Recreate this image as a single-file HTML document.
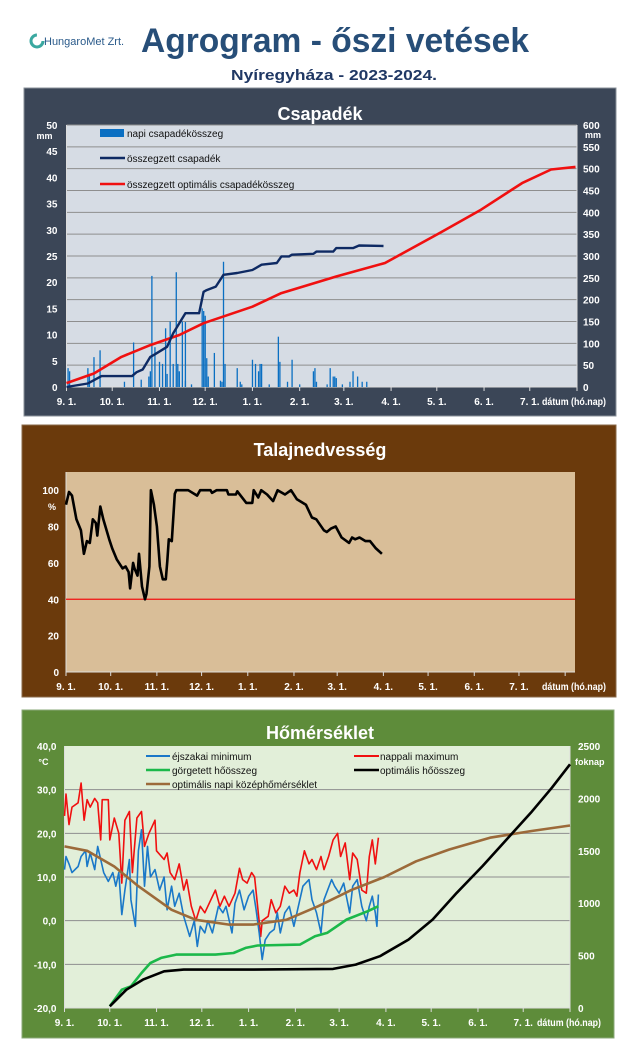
<!DOCTYPE html>
<html><head><meta charset="utf-8">
<style>
html,body{margin:0;padding:0;background:#fff;}
svg{display:block;}
text{font-family:"Liberation Sans",sans-serif;}
</style></head>
<body>
<svg id="root" width="640" height="1059" viewBox="0 0 640 1059" xmlns="http://www.w3.org/2000/svg">
  <g>
    <circle cx="37" cy="41" r="6" fill="none" stroke="#3aa8a0" stroke-width="3" stroke-dasharray="28 10"/>
    <text x="44" y="45" font-size="11" fill="#2a5a8a">HungaroMet Zrt.</text>
  </g>
  <text x="335" y="52" text-anchor="middle" font-size="34" font-weight="bold" fill="#274e78" textLength="388" lengthAdjust="spacingAndGlyphs">Agrogram - őszi vetések</text>
  <text x="334" y="80" text-anchor="middle" font-size="15" font-weight="bold" fill="#203864" textLength="206" lengthAdjust="spacingAndGlyphs">Nyíregyháza  - 2023-2024.</text>

  <rect x="24" y="88" width="592" height="328" fill="#3b4657" stroke="#8a9099"/>
  <text x="320" y="120" text-anchor="middle" font-size="18" font-weight="bold" fill="#fff">Csapadék</text>
  <rect x="66.5" y="125" width="510.5" height="262" fill="#d6dce4"/>
  <g id="p1"></g>

  <rect x="22" y="425" width="594" height="272" fill="#6b3a0c" stroke="#8a6a4a"/>
  <text x="320" y="456" text-anchor="middle" font-size="18" font-weight="bold" fill="#fff">Talajnedvesség</text>
  <rect x="66" y="472" width="509" height="200" fill="#d9be98"/>
  <g id="p2"></g>

  <rect x="22" y="710" width="592" height="328" fill="#5e8c3a" stroke="#8aa878"/>
  <text x="320" y="739" text-anchor="middle" font-size="18" font-weight="bold" fill="#fff">Hőmérséklet</text>
  <rect x="64.5" y="746" width="505.5" height="262" fill="#e2efd9"/>
  <g id="p3"></g>
</svg>
<script>
const monthDays = [0,30,61,91,122,153,182,213,243,274,304,335];
const monthLabels = ["9. 1.","10. 1.","11. 1.","12. 1.","1. 1.","2. 1.","3. 1.","4. 1.","5. 1.","6. 1.","7. 1."];
const precipLeftTicks = [0,5,10,15,20,25,30,35,40,45,50];
const precipRightTicks = [0,50,100,150,200,250,300,350,400,450,500,550,600];
const precipDay = [1,2,14,15,18,22,38,44,49,54,55,56,58,61,63,65,66,68,70,72,73,74,76,78,78,82,89,90,91,92,93,97,101,102,103,104,112,114,115,122,124,126,127,128,133,139,140,145,148,153,162,163,164,171,173,175,176,177,181,186,188,191,194,197];
const precipMm = [3.6,3,3.6,2.4,5.7,7,1,8.5,1.4,2,3,21.2,7.6,4.8,4.4,11.2,2.5,12.5,4.4,21.9,4.4,3,12.5,12.4,1.2,0.5,15,14.5,13.6,5.5,2,6.5,1.2,1,23.9,4.4,3.6,1,0.5,5.2,4.4,3,4.4,4.4,0.5,9.6,4.8,1,5.2,0.5,3,3.6,1,0.5,3.6,2,2,1.7,0.5,1,3,2,1,1];
const cumDay = [0,14,23,43,46,50,55,58,66,70,74,78,87,90,92,98,103,112,122,128,138,141,146,148,162,164,175,177,188,192,208];
const cumMm = [0,8,25,25,34,40,69,75,92,123,146,169,169,218,222,230,257,261,268,280,284,299,299,303,305,310,310,318,318,324,323];
const optDay = [0,18,36,55,74,90,122,141,177,209,245,272,299,318,334];
const optMm = [9,31,69,96,119,146,184,215,253,284,353,406,467,498,504];

const soilTicks = [0,20,40,60,80,100];
const soilThreshold = 40;
const soilDay = [0,2,4,7,10,12,14,16,18,20,21,23,25,29,31,34,38,40,42,43,45,46,48,49,51,53,54,56,57,59,61,63,65,67,68,69,71,73,74,82,88,90,97,98,101,108,109,114,115,121,125,126,129,131,135,139,142,147,151,155,161,165,168,173,175,178,181,185,190,192,194,197,201,204,208,212];
const soilPct = [92,99,97,84,78,65,72,71,84,82,75,91,84,73,68,62,57,58,55,46,60,57,53,65,47,40,43,58,100,92,80,58,51,51,61,73,72,98,100,100,97,100,100,98.5,100,100,97.6,97.6,99.4,93,93,100,96,100,97.6,94,100,97.6,100,95,92,85,84,78,77,79,80,74,71,74,73,74,72,72,68,65];

const tempLeftTicks = [-20,-10,0,10,20,30,40];
const tempLeftLabels = ["-20,0","-10,0","0,0","10,0","20,0","30,0","40,0"];
const tempRightTicks = [0,500,1000,1500,2000,2500];
const maxDay = [0,1,3,5,9,11,13,15,17,20,22,24,25,29,30,33,36,38,40,43,45,48,51,53,56,60,61,66,68,70,73,76,79,81,84,87,90,93,97,100,103,106,109,113,116,118,121,124,126,130,131,135,137,140,143,146,149,152,154,156,159,162,164,167,170,172,175,178,181,183,186,189,191,194,197,200,202,204,206,208];
const maxT = [24,29,22,26,27,31.5,23,27.7,26,28,27,18.5,27.7,27.7,18.5,23.5,20,8.6,23,25,11,23.5,25,17,20,23,16,14,15.5,11,9.4,13,7,9.4,3.3,0,3.3,1.8,4.8,7,3.3,5.6,3.3,6.3,12,9.4,8.6,11,10,-3.6,0,1,4.8,1.8,3.3,7.9,6.3,7,5.6,11,16,13,14,11.7,14.7,11.7,14.7,18.5,20,14.7,17.8,9.4,15.5,14,7,6.3,14.7,18.5,13,19];
const minDay = [0,1,3,5,9,11,14,15,17,20,22,24,26,29,32,34,36,38,40,43,44,47,49,51,53,55,57,60,63,66,68,71,73,76,79,83,86,88,90,93,95,98,102,105,107,111,113,116,119,122,125,127,129,131,133,136,139,141,143,146,149,152,154,158,162,164,167,170,172,177,179,182,185,189,191,194,197,200,202,204,206,207,208];
const minT = [11.7,14.7,13,11,12.4,14.7,16,12.4,15.5,11.7,17,14,11,9,11,7.9,11,1.4,7,14,4.8,-1.3,16,20.8,7.9,17,10,11.7,7,10,2.5,7.9,3.3,6.3,1,-3.6,0,-5.9,-1.3,-2.8,0,-2.8,3.3,1.8,3.3,-2.8,4,7,2.5,5.6,7,2.5,-2.8,-8.9,-4.4,-2.8,-2,1.8,-2.8,1.8,3.3,-1.3,1.8,7.9,9.4,4.8,1.8,-2.8,4.8,9.4,7.9,6.3,8.6,1.8,7.9,9.4,3.3,0,3.3,5.6,1.8,-1.3,6];
const optTDay = [0,15,33,49,71,87,109,125,147,168,190,212,233,255,282,309,335];
const optT = [17,16,12.4,7.9,2.5,0.2,-0.9,-0.9,0.2,3.3,7,10,13.6,16.3,19,20.5,21.8];
const gddDay = [30,38,44,51,57,64,74,100,112,120,128,156,166,174,187,201,208];
const gdd = [16,175,207,334,430,478,510,510,525,573,596,605,685,717,844,924,971];
const optGddDay = [30,41,52,66,79,120,178,193,209,228,244,260,277,293,309,323,335];
const optGdd = [16,175,271,350,366,366,373,414,494,653,844,1099,1354,1608,1863,2102,2325];

const NS = "http://www.w3.org/2000/svg";
function mk(parent, tag, attrs, txt){
  const el = document.createElementNS(NS, tag);
  for (const k in attrs) el.setAttribute(k, attrs[k]);
  if (txt !== undefined) el.textContent = txt;
  parent.appendChild(el);
  return el;
}
function linPath(xs, ys, fx, fy){
  return xs.map((d,i)=>(i?"L":"M")+fx(d).toFixed(1)+","+fy(ys[i]).toFixed(1)).join("");
}
function xAxis(g, fx, B, R, labY, color){
  for (let i=0;i<monthDays.length;i++){
    const x = fx(monthDays[i]);
    const t = mk(g,"line",{x1:x,y1:B,x2:x,y2:B+4,stroke:"#ddd","stroke-width":1});
    
    
    if (i<monthLabels.length){
      const l = mk(g,"text",{x:x,y:labY,"text-anchor":"middle","font-size":10,"font-weight":"bold",fill:color},monthLabels[i]);
      
      
    }
  }
  const ax = mk(g,"line",{x1:fx(0),y1:B,x2:R,y2:B,stroke:"#ddd","stroke-width":1});
  
  
  const dt = mk(g,"text",{x:Math.min(R,575)-1,y:labY,"text-anchor":"middle","font-size":10,"font-weight":"bold",fill:color,textLength:64,lengthAdjust:"spacingAndGlyphs"},"dátum (hó.nap)");
  
  
}

(function(){
  const g = document.getElementById("p1");
  const L=66.5,R=577,T=125,B=387;
  const fx = d => L + d*(R-L)/335;
  const fyL = v => B - v*(B-T)/50;
  const fyR = v => B - v*(B-T)/600;
  precipRightTicks.forEach(v=>{
    if (v>0){
      const gl = mk(g,"line",{x1:L,y1:fyR(v),x2:R,y2:fyR(v),stroke:"#8e8e8e","stroke-width":1});
      
      
    }
    const t = mk(g,"text",{x:R+6,y:fyR(v)+4,"font-size":10,"font-weight":"bold",fill:"#fff"},String(v));
    
    
  });
  precipLeftTicks.forEach(v=>{
    const t = mk(g,"text",{x:L-9,y:fyL(v)+4,"text-anchor":"end","font-size":10,"font-weight":"bold",fill:"#fff"},String(v));
    
    
  });
  const u1 = mk(g,"text",{x:L-14,y:139,"text-anchor":"end","font-size":9,"font-weight":"bold",fill:"#fff"},"mm");
  
  
  const u2 = mk(g,"text",{x:R+8,y:138,"font-size":9,"font-weight":"bold",fill:"#fff"},"mm");
  
  
  const la = mk(g,"line",{x1:L,y1:T,x2:L,y2:B,stroke:"#ddd"});
  
  
  const ra = mk(g,"line",{x1:R,y1:T,x2:R,y2:B,stroke:"#ddd"});
  
  
  xAxis(g, fx, B, R, 405, "#fff");
  precipDay.forEach((d,i)=>{
    const b = mk(g,"rect",{x:fx(d)-0.6,y:fyL(precipMm[i]),width:1.3,height:B-fyL(precipMm[i]),fill:"#0a6fc2"});
    
    
  });
  const opt = mk(g,"path",{d:linPath(optDay,optMm,fx,fyR),fill:"none",stroke:"#f01010","stroke-width":2.6,"stroke-linejoin":"round"});
  
  
  const cum = mk(g,"path",{d:linPath(cumDay,cumMm,fx,fyR),fill:"none",stroke:"#0e2a63","stroke-width":2.4,"stroke-linejoin":"round"});
  
  
  const lg = mk(g,"g",{});
  
  
  const s1 = mk(lg,"rect",{x:100,y:129,width:24,height:8,fill:"#0a6fc2"});
  
  
  const t1 = mk(lg,"text",{x:127,y:137,"font-size":10,fill:"#111"},"napi csapadékösszeg");
  
  
  const s2 = mk(lg,"line",{x1:100,y1:158,x2:125,y2:158,stroke:"#0e2a63","stroke-width":2.5});
  
  
  const t2 = mk(lg,"text",{x:127,y:162,"font-size":10,fill:"#111"},"összegzett csapadék");
  
  
  const s3 = mk(lg,"line",{x1:100,y1:184,x2:125,y2:184,stroke:"#f01010","stroke-width":2.5});
  
  
  const t3 = mk(lg,"text",{x:127,y:188,"font-size":10,fill:"#111"},"összegzett optimális csapadékösszeg");
  
  
})();

(function(){
  const g = document.getElementById("p2");
  const L=66,R=575,T=472,B=672;
  const fx = d => L + d*1.49;
  const fy = v => B - v*(B-T)/110;
  soilTicks.forEach(v=>{
    const t = mk(g,"text",{x:L-7,y:fy(v)+4,"text-anchor":"end","font-size":10,"font-weight":"bold",fill:"#fff"},String(v));
    
    
  });
  const u = mk(g,"text",{x:L-18,y:510,"font-size":9,"font-weight":"bold",fill:"#fff"},"%");
  
  
  const la = mk(g,"line",{x1:L,y1:T,x2:L,y2:B,stroke:"#ddd"});
  
  
  xAxis(g, fx, B, R, 690, "#fff");
  const th = mk(g,"line",{x1:L,y1:fy(soilThreshold),x2:R,y2:fy(soilThreshold),stroke:"#f01010","stroke-width":1.2});
  
  
  const p = mk(g,"path",{d:linPath(soilDay,soilPct,fx,fy),fill:"none",stroke:"#000","stroke-width":2.6,"stroke-linejoin":"round"});
  
  
})();

(function(){
  const g = document.getElementById("p3");
  const L=64.5,R=570,T=746,B=1008;
  const fx = d => L + d*(R-L)/335;
  const fyL = v => B - (v+20)*(B-T)/60;
  const fyR = v => B - v*(B-T)/2500;
  tempLeftTicks.forEach((v,i)=>{
    if (v>-20 && v<40){
      const gl = mk(g,"line",{x1:L,y1:fyL(v),x2:R,y2:fyL(v),stroke:"#8e8e8e","stroke-width":1});
      
      
    }
    const t = mk(g,"text",{x:L-8,y:fyL(v)+4,"text-anchor":"end","font-size":10,"font-weight":"bold",fill:"#fff"},tempLeftLabels[i]);
    
    
  });
  tempRightTicks.forEach(v=>{
    const t = mk(g,"text",{x:R+8,y:fyR(v)+4,"font-size":10,"font-weight":"bold",fill:"#fff"},String(v));
    
    
  });
  const u1 = mk(g,"text",{x:L-16,y:765,"text-anchor":"end","font-size":9,"font-weight":"bold",fill:"#fff"},"°C");
  
  
  const u2 = mk(g,"text",{x:R+5,y:765,"font-size":9,"font-weight":"bold",fill:"#fff"},"foknap");
  
  
  const la = mk(g,"line",{x1:L,y1:T,x2:L,y2:B,stroke:"#ddd"});
  
  
  const ra = mk(g,"line",{x1:R,y1:T,x2:R,y2:B,stroke:"#ddd"});
  
  
  xAxis(g, fx, B, R, 1026, "#fff");
  const mx = mk(g,"path",{d:linPath(maxDay,maxT,fx,fyL),fill:"none",stroke:"#f01010","stroke-width":1.6,"stroke-linejoin":"round"});
  
  
  const mn = mk(g,"path",{d:linPath(minDay,minT,fx,fyL),fill:"none",stroke:"#1a78c8","stroke-width":1.6,"stroke-linejoin":"round"});
  
  
  const ot = mk(g,"path",{d:linPath(optTDay,optT,fx,fyL),fill:"none",stroke:"#9c6a3a","stroke-width":2.6,"stroke-linejoin":"round"});
  
  
  const gd = mk(g,"path",{d:linPath(gddDay,gdd,fx,fyR),fill:"none",stroke:"#1cb84a","stroke-width":2.6,"stroke-linejoin":"round"});
  
  
  const og = mk(g,"path",{d:linPath(optGddDay,optGdd,fx,fyR),fill:"none",stroke:"#000","stroke-width":2.6,"stroke-linejoin":"round"});
  
  
  const lg = mk(g,"g",{});
  
  
  const e1 = mk(lg,"line",{x1:146,y1:756,x2:170,y2:756,stroke:"#1a78c8","stroke-width":2});
  
  
  const f1 = mk(lg,"text",{x:172,y:760,"font-size":10,fill:"#111"},"éjszakai minimum");
  
  
  const e2 = mk(lg,"line",{x1:354,y1:756,x2:379,y2:756,stroke:"#f01010","stroke-width":2});
  
  
  const f2 = mk(lg,"text",{x:380,y:760,"font-size":10,fill:"#111"},"nappali maximum");
  
  
  const e3 = mk(lg,"line",{x1:146,y1:770,x2:170,y2:770,stroke:"#1cb84a","stroke-width":2.6});
  
  
  const f3 = mk(lg,"text",{x:172,y:774,"font-size":10,fill:"#111"},"görgetett hőösszeg");
  
  
  const e4 = mk(lg,"line",{x1:354,y1:770,x2:379,y2:770,stroke:"#000","stroke-width":2.6});
  
  
  const f4 = mk(lg,"text",{x:380,y:774,"font-size":10,fill:"#111"},"optimális hőösszeg");
  
  
  const e5 = mk(lg,"line",{x1:146,y1:784,x2:170,y2:784,stroke:"#9c6a3a","stroke-width":2.6});
  
  
  const f5 = mk(lg,"text",{x:172,y:788,"font-size":10,fill:"#111"},"optimális napi középhőmérséklet");
  
  
})();
</script>
</body></html>
